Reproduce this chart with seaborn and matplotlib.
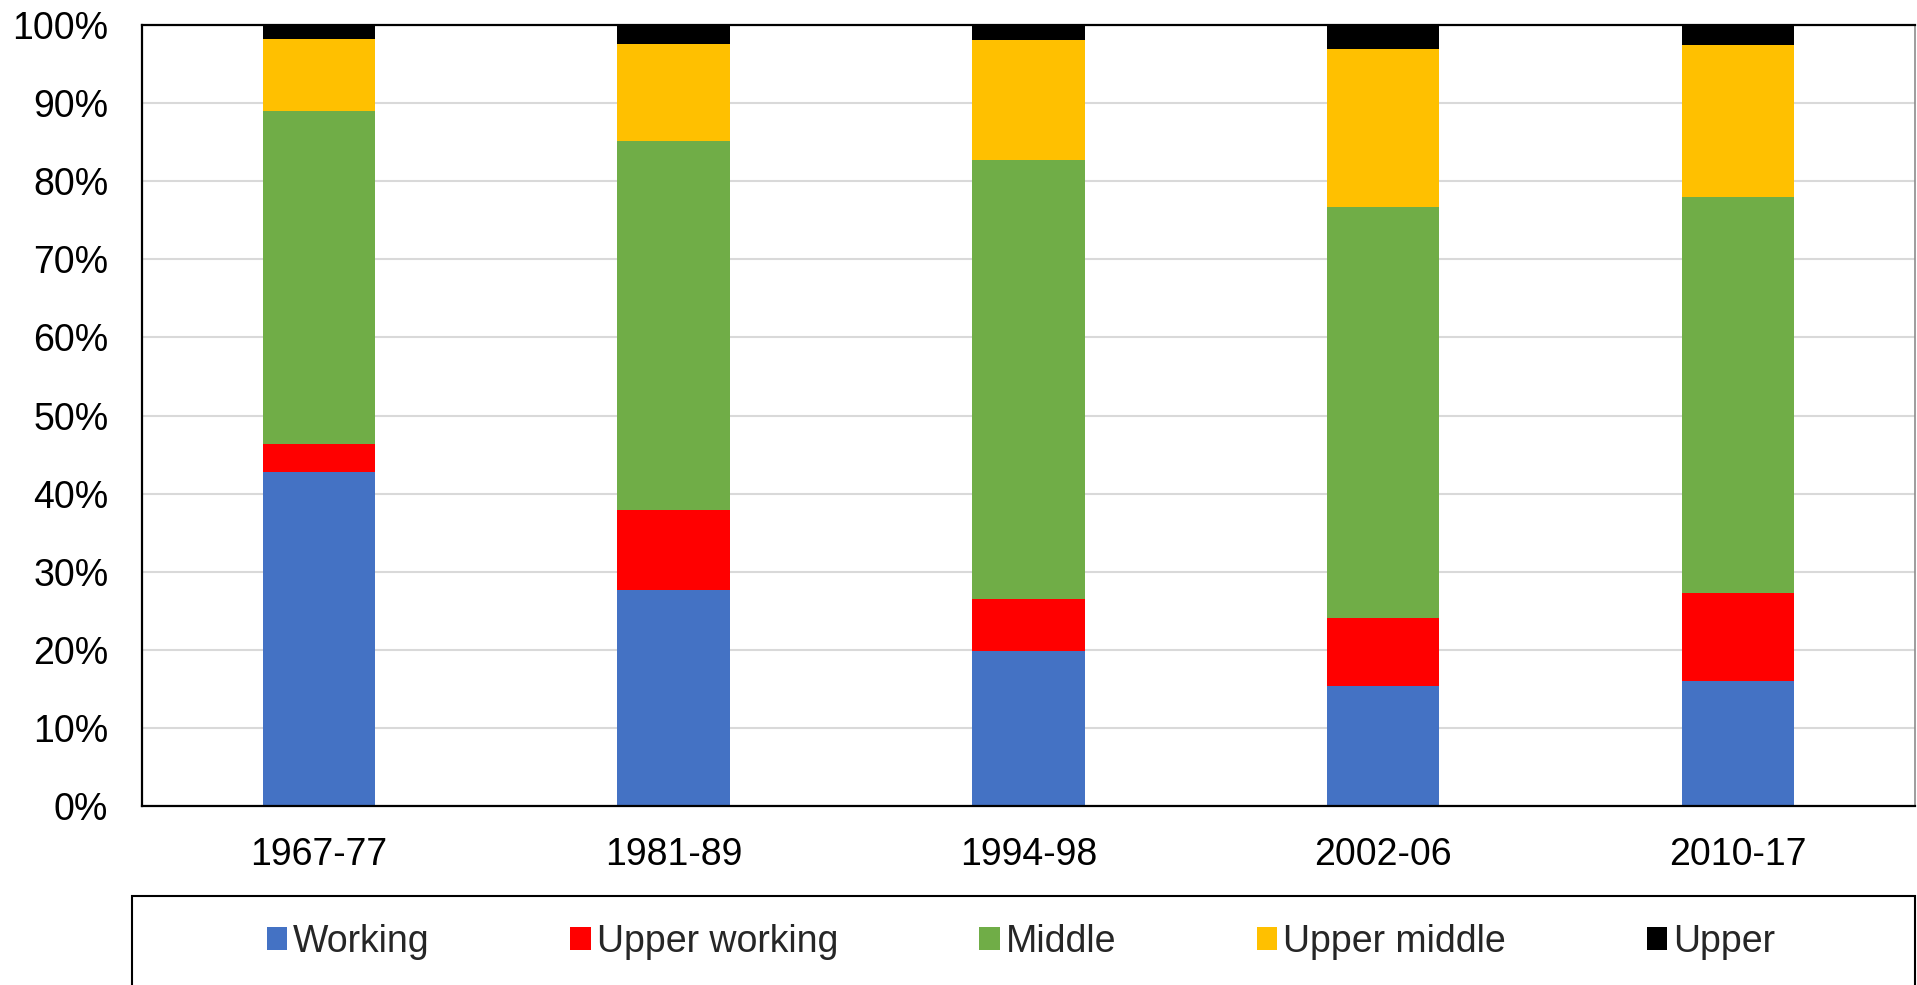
import numpy as np
import pandas as pd
import matplotlib
matplotlib.use("Agg")
import matplotlib.pyplot as plt
import seaborn as sns
from matplotlib.patches import Rectangle, Patch

# ===============================
# Data (shares in %)
# ===============================
periods = ["1967-77", "1981-89", "1994-98", "2002-06", "2010-17"]
classes = ["Working", "Upper working", "Middle", "Upper middle", "Upper"]
working = [42.8, 27.6, 19.8, 15.4, 16.0]
upper_working = [3.6, 10.3, 6.7, 8.7, 11.3]
middle = [42.6, 47.2, 56.2, 52.6, 50.7]
upper_middle = [9.2, 12.5, 15.4, 20.2, 19.4]
upper = [1.8, 2.4, 1.9, 3.1, 2.6]
colors = ["#4472C4", "#FF0000", "#70AD47", "#FFC000", "#000000"]

df = pd.DataFrame({"Period": periods, "Working": working,
                   "Upper working": upper_working, "Middle": middle,
                   "Upper middle": upper_middle, "Upper": upper})

sns.set_style("white")
plt.rcParams["font.family"] = ["Liberation Sans", "DejaVu Sans"]

fig = plt.figure(figsize=(19.17, 9.85), dpi=100)
ax = fig.add_axes([0.0739, 0.1817, 0.9251, 0.7929])

# stacked bars
bottom = np.zeros(len(periods))
for name, col in zip(classes, colors):
    sns.barplot(data=df, x="Period", y=name, order=periods, color=col,
                width=0.317, bottom=bottom, ax=ax, linewidth=0, saturation=1)
    bottom += df[name].values

ax.set_xlim(-0.5, 4.5)
ax.set_ylim(0, 100)
ax.set_yticks(range(0, 101, 10))
ax.set_yticklabels([f"{v}%" for v in range(0, 101, 10)])
ax.set_xlabel("")
ax.set_ylabel("")
ax.yaxis.grid(True, color="#d9d9d9", linewidth=1.5)
ax.set_axisbelow(True)
ax.tick_params(axis="both", labelsize=27, colors="black", length=0)
ax.tick_params(axis="y", pad=24)
ax.tick_params(axis="x", pad=22)
for side in ["left", "bottom", "top"]:
    ax.spines[side].set_color("black")
    ax.spines[side].set_linewidth(1.6)
ax.spines["right"].set_color("#8c8c8c")
ax.spines["right"].set_linewidth(1.2)

# Legend box
fig.patches.append(Rectangle((132 / 1917, -0.01), 1783 / 1917, (985 - 896) / 985 + 0.01,
                             transform=fig.transFigure, fill=False,
                             edgecolor="black", linewidth=1.5))
handles = [Patch(facecolor=c, edgecolor="none") for c in colors]
fig.legend(handles, classes, loc="center", bbox_to_anchor=(0.5326, 0.0437),
           ncol=5, frameon=False, fontsize=27, handlelength=0.55,
           handleheight=0.55, handletextpad=0.16, columnspacing=3.75)

plt.savefig("out.png", dpi=100)
